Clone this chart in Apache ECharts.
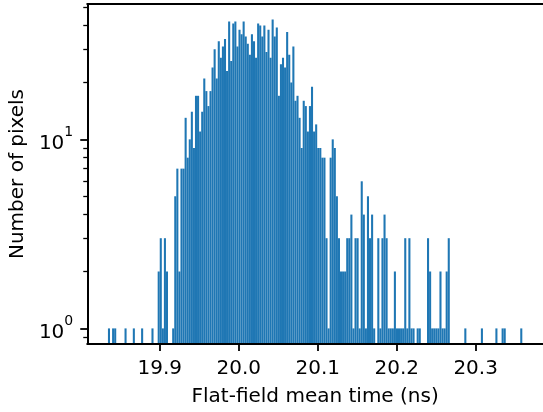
<!DOCTYPE html>
<html><head><meta charset="utf-8">
<script src="https://cdn.jsdelivr.net/npm/echarts@6/dist/echarts.min.js"></script>
<style>html,body{margin:0;padding:0;background:#fff}#c{width:543px;height:412px}</style>
</head><body><div id="c"></div><script>
// histogram: 200 equal bins between histMin and histMax
const histMin = 19.8343;
const histMax = 20.3591;
const counts = [
  1,0,1,1,0,0,0,0,1,0,0,0,1,0,0,0,1,0,0,0,
  0,1,0,0,2,3,1,3,2,0,0,1,5,7,2,7,7,13,8,10,
  14,9,17,17,11,14,21,18,15,18,24,30,21,33,27,31,34,23,42,26,
  41,42,31,38,36,42,35,32,28,36,33,27,41,40,35,40,29,38,27,43,
  35,39,17,25,27,24,37,28,20,31,16,17,13,9,16,15,11,15,19,11,
  12,9,9,8,8,3,1,8,10,9,5,3,2,2,2,3,3,4,1,3,
  3,1,6,4,1,5,3,4,1,0,3,1,3,4,3,1,1,1,2,1,
  1,1,1,3,1,3,1,1,0,1,1,0,0,0,3,2,1,1,1,1,
  2,1,1,2,3,0,0,0,0,0,0,0,1,0,0,0,0,0,0,0,
  1,0,0,0,0,0,0,1,0,0,1,1,0,0,0,0,0,0,0,1
];
const xTicks = [19.9, 20.0, 20.1, 20.2, 20.3];
const yMajorTicks = [1, 10];
const yMinorTicks = [0.9, 2, 3, 4, 5, 6, 7, 8, 9, 20, 30, 40, 50];
const xRange = [19.8081, 20.3853];
const yRange = [0.827, 52];
const xTitle = 'Flat-field mean time (ns)';
const yTitle = 'Number of pixels';

const binW = (histMax - histMin) / counts.length;
const barData = [];
counts.forEach((c, i) => {
  if (c > 0) barData.push([histMin + i * binW, histMin + (i + 1) * binW, c]);
});

const FONT = 'DejaVu Sans';
const chart = echarts.init(document.getElementById('c'), null, {renderer: 'canvas'});
chart.setOption({
  animation: false,
  backgroundColor: '#fff',
  grid: {left: 87, top: 4, width: 459, height: 341.7, show: false, containLabel: false},
  xAxis: [{
    type: 'value', min: xRange[0], max: xRange[1], z: 5,
    splitLine: {show: false},
    axisLine: {show: true, onZero: false, lineStyle: {color: '#000', width: 2}},
    axisTick: {show: true, length: 7, customValues: xTicks, lineStyle: {color: '#000', width: 1.8}},
    axisLabel: {customValues: xTicks, margin: 15, color: '#000', fontFamily: FONT, fontSize: 20,
      formatter: v => v.toFixed(1)},
    name: xTitle, nameLocation: 'middle', nameGap: 43,
    nameTextStyle: {color: '#000', fontFamily: FONT, fontSize: 20}
  }, {
    type: 'value', position: 'top', min: xRange[0], max: xRange[1], z: 5,
    splitLine: {show: false},
    axisLine: {show: true, onZero: false, lineStyle: {color: '#000', width: 2}},
    axisTick: {show: false}, axisLabel: {show: false}
  }],
  yAxis: [{
    type: 'log', logBase: 10, min: yRange[0], max: yRange[1], z: 5,
    splitLine: {show: false},
    axisLine: {show: true, onZero: false, lineStyle: {color: '#000', width: 2}},
    axisTick: {show: true, length: 7, customValues: yMajorTicks, lineStyle: {color: '#000', width: 1.8}},
    axisLabel: {customValues: yMajorTicks, margin: 14, color: '#000', fontFamily: FONT, fontSize: 20,
      formatter: v => '{b|10}{s|' + Math.round(Math.log10(v)) + '}',
      rich: {
        b: {fontFamily: FONT, fontSize: 20, color: '#000', padding: [8, 0, 0, 0]},
        s: {fontFamily: FONT, fontSize: 14, color: '#000', verticalAlign: 'top'}
      }},
    name: yTitle, nameLocation: 'middle', nameGap: 58, nameRotate: 90,
    nameTextStyle: {color: '#000', fontFamily: FONT, fontSize: 20}
  }, {
    type: 'log', logBase: 10, min: yRange[0], max: yRange[1], position: 'left', z: 5,
    splitLine: {show: false},
    axisLine: {show: false},
    axisTick: {show: true, length: 4, customValues: yMinorTicks, lineStyle: {color: '#000', width: 1.3}},
    axisLabel: {show: false}
  }],
  series: [{
    type: 'custom',
    xAxisIndex: 0, yAxisIndex: 0,
    data: barData,
    encode: {x: [0, 1], y: 2},
    renderItem: (params, api) => {
      const p0 = api.coord([api.value(0), api.value(2)]);
      const p1 = api.coord([api.value(1), yRange[0]]);
      return {type: 'rect', shape: {x: p0[0], y: p0[1], width: p1[0] - p0[0], height: p1[1] - p0[1]},
        style: {fill: '#1f77b4'}};
    }
  }]
});
</script></body></html>
